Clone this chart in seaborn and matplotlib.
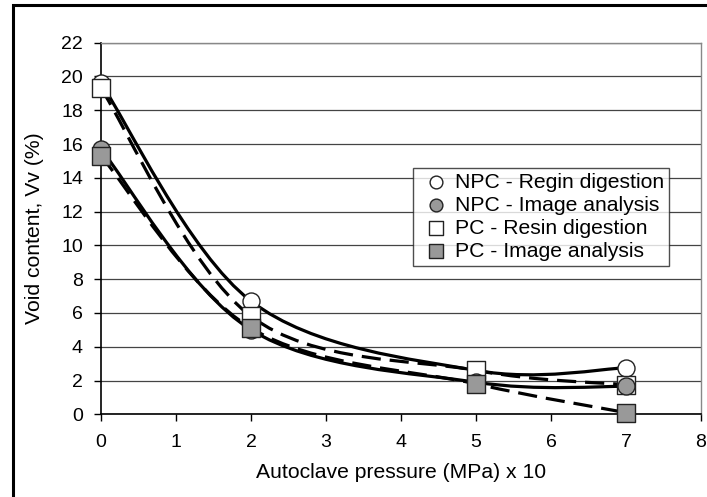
import numpy as np
import pandas as pd
import matplotlib
matplotlib.use("Agg")
import matplotlib.pyplot as plt
from matplotlib.path import Path
from matplotlib.patches import PathPatch, Rectangle
import seaborn as sns

# ---- data ----
pressure = [0, 2, 5, 7]
npc_resin = [19.6, 6.7, 2.6, 2.75]
npc_image = [15.7, 5.0, 1.9, 1.65]
pc_resin = [19.3, 5.8, 2.6, 1.75]
pc_image = [15.3, 5.1, 1.8, 0.1]
labels = ["NPC - Regin digestion", "NPC - Image analysis",
          "PC - Resin digestion", "PC - Image analysis"]
x_ticks = [0, 1, 2, 3, 4, 5, 6, 7, 8]
y_ticks = [0, 2, 4, 6, 8, 10, 12, 14, 16, 18, 20, 22]

plt.rcParams['font.family'] = ['Liberation Sans', 'DejaVu Sans']

fig = plt.figure(figsize=(7.07, 4.97), dpi=100)
ax = fig.add_axes([101/707, 1 - 414.3/497, 600/707, (414.3 - 42.7)/497])

def smooth_path(xs, ys):
    """Excel-style smoothed line: cubic Bezier through the data points."""
    P = np.column_stack([xs, ys]).astype(float)
    n = len(P)
    verts = [P[0]]
    codes = [Path.MOVETO]
    for i in range(n - 1):
        p0 = P[i - 1] if i > 0 else P[i]
        p1 = P[i]
        p2 = P[i + 1]
        p3 = P[i + 2] if i + 2 < n else P[i + 1]
        c1 = p1 + (p2 - p0) / 6.0
        c2 = p2 - (p3 - p1) / 6.0
        verts += [c1, c2, p2]
        codes += [Path.CURVE4] * 3
    return Path(verts, codes)

series = [
    (npc_resin, 'o', 'white', '-'),
    (npc_image, 'o', '#999999', '-'),
    (pc_resin, 's', 'white', '--'),
    (pc_image, 's', '#999999', '--'),
]

lw = 2.3
for ys, mk, fc, ls in series:
    style = '-' if ls == '-' else (0, (6.0, 2.8))
    patch = PathPatch(smooth_path(pressure, ys), facecolor='none',
                      edgecolor='black', lw=lw, linestyle=style,
                      zorder=3, capstyle='butt')
    ax.add_patch(patch)

# markers (draw order: NPC resin, PC resin, NPC image, PC image)
order = [0, 2, 1, 3]
for z, idx in enumerate(order):
    ys, mk, fc, ls = series[idx]
    df = pd.DataFrame({"x": pressure, "y": ys})
    sns.scatterplot(data=df, x="x", y="y", marker=mk, s=150 if mk == 'o' else 160,
                    color=fc, edgecolor='#222222', linewidth=1.0,
                    ax=ax, zorder=4 + z, label=labels[idx], clip_on=False)

h, l = ax.get_legend_handles_labels()
lab2h = dict(zip(l, h))
leg = ax.legend([lab2h[t] for t in labels], labels,
                loc='upper left', bbox_to_anchor=(0.52, 0.662),
                borderaxespad=0, frameon=True, fancybox=False,
                edgecolor='#222222', fontsize=15.2, markerscale=0.75,
                handlelength=1.7, handletextpad=0.08, labelspacing=0.19,
                borderpad=0.22)
leg.get_frame().set_linewidth(1.0)
leg.set_zorder(20)

ax.set_xlim(0, 8)
ax.set_ylim(0, 22)
ax.set_xticks(x_ticks)
ax.set_yticks(y_ticks)
ax.tick_params(axis='both', labelsize=14, length=5, width=1, direction='out',
               color='black', pad=8)
ax.tick_params(axis='x', pad=9)
ax.set_xlabel("Autoclave pressure (MPa) x 10", fontsize=15.2, labelpad=9)
ax.set_ylabel("Void content, Vv (%)", fontsize=15.2, labelpad=12)

ax.grid(axis='y', color='#444444', lw=0.9)
ax.grid(axis='x', visible=False)
ax.set_axisbelow(True)
for s in ['left', 'bottom']:
    ax.spines[s].set_color('black')
    ax.spines[s].set_linewidth(1.2)
for s in ['top', 'right']:
    ax.spines[s].set_color('#888888')
    ax.spines[s].set_linewidth(1.0)

# outer chart border
fig.patches.append(Rectangle((12.5/707, -0.01), 1.2, 1 - 5/497 + 0.01,
                             transform=fig.transFigure, fill=False,
                             edgecolor='black', lw=2.2))

fig.savefig("out.png", dpi=100)
